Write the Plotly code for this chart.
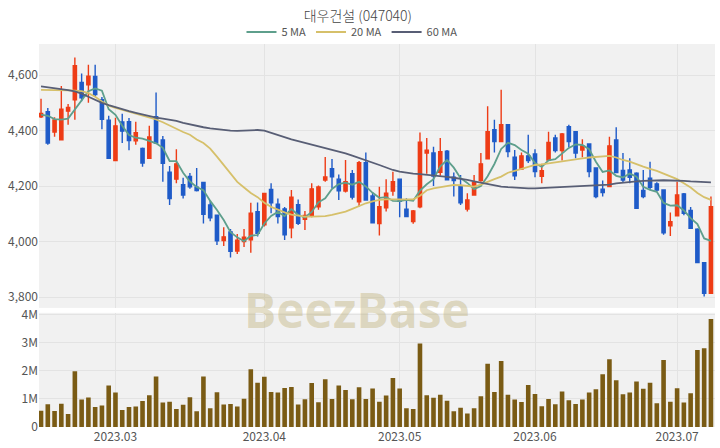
import pandas as pd
import plotly.graph_objects as go

title_text = "대우건설 (047040)"

# trading calendar (KRX holidays inside the window)
holidays = ["2023-03-01", "2023-05-01", "2023-05-05", "2023-05-29", "2023-06-06"]
dates = [d.strftime("%Y-%m-%d") for d in pd.bdate_range("2023-02-14", "2023-07-10")
         if d.strftime("%Y-%m-%d") not in holidays]

month_ticks = ["2023-03-02", "2023-04-03", "2023-05-02", "2023-06-01", "2023-07-03"]
month_labels = ["2023.03", "2023.04", "2023.05", "2023.06", "2023.07"]

opens = [4450, 4468, 4395, 4367, 4470, 4511, 4573, 4565, 4595, 4511,
         4437, 4292, 4431, 4432, 4363, 4336, 4300, 4450, 4366, 4250,
         4225, 4205, 4235, 4196, 4213, 4132, 4095, 4004, 4035, 3966,
         4000, 4006, 4108, 4060, 4188, 4135, 4118, 4050, 4133, 4080,
         4092, 4125, 4222, 4263, 4225, 4182, 4245, 4143, 4284, 4164,
         4065, 4122, 4182, 4225, 4117, 4072, 4125, 4319, 4319, 4250,
         4326, 4232, 4198, 4117, 4168, 4220, 4298, 4403, 4360, 4421,
         4304, 4261, 4309, 4316, 4235, 4294, 4373, 4328, 4414, 4396,
         4330, 4352, 4265, 4189, 4198, 4366, 4256, 4258, 4246, 4184,
         4228, 4208, 4186, 4057, 4093, 4172, 4112, 4045, 3924, 3814]
highs = [4515, 4481, 4448, 4561, 4496, 4663, 4606, 4637, 4637, 4521,
         4453, 4446, 4461, 4445, 4432, 4339, 4417, 4537, 4380, 4272,
         4333, 4230, 4247, 4265, 4213, 4146, 4095, 4052, 4045, 4027,
         4045, 4140, 4141, 4174, 4210, 4155, 4125, 4186, 4152, 4110,
         4210, 4202, 4305, 4298, 4242, 4294, 4258, 4290, 4321, 4177,
         4198, 4225, 4252, 4225, 4156, 4114, 4393, 4373, 4342, 4373,
         4330, 4249, 4240, 4174, 4240, 4319, 4488, 4439, 4547, 4421,
         4330, 4321, 4385, 4333, 4280, 4396, 4385, 4391, 4421, 4396,
         4369, 4352, 4265, 4220, 4378, 4412, 4319, 4300, 4250, 4258,
         4288, 4214, 4186, 4105, 4216, 4175, 4125, 4048, 3924, 4162]
lows = [4445, 4349, 4378, 4365, 4421, 4439, 4506, 4500, 4522, 4405,
        4298, 4290, 4355, 4329, 4349, 4270, 4298, 4352, 4216, 4132,
        4210, 4155, 4190, 4180, 4065, 4073, 3988, 3984, 3943, 3955,
        3980, 3960, 4018, 4054, 4102, 4065, 4006, 4012, 4060, 4042,
        4088, 4115, 4216, 4192, 4150, 4177, 4152, 4126, 4148, 4066,
        4022, 4108, 4165, 4088, 4088, 4064, 4120, 4244, 4200, 4237,
        4222, 4162, 4132, 4108, 4166, 4216, 4297, 4321, 4358, 4304,
        4222, 4258, 4283, 4232, 4210, 4294, 4321, 4292, 4340, 4300,
        4304, 4232, 4156, 4162, 4198, 4249, 4213, 4210, 4120, 4156,
        4186, 4180, 4025, 4020, 4090, 4095, 4045, 3922, 3802, 3814]
closes = [4462, 4355, 4438, 4477, 4483, 4634, 4518, 4596, 4530, 4441,
          4300, 4417, 4398, 4364, 4392, 4283, 4377, 4355, 4282, 4155,
          4280, 4168, 4197, 4184, 4098, 4086, 4003, 4017, 3965, 4005,
          4016, 4102, 4030, 4173, 4140, 4090, 4024, 4160, 4066, 4094,
          4190, 4197, 4233, 4233, 4183, 4216, 4160, 4284, 4150, 4068,
          4126, 4174, 4216, 4145, 4090, 4110, 4358, 4329, 4236, 4324,
          4223, 4220, 4140, 4150, 4212, 4280, 4396, 4360, 4421, 4324,
          4237, 4309, 4292, 4252, 4255, 4357, 4328, 4388, 4360, 4319,
          4345, 4252, 4162, 4177, 4345, 4249, 4222, 4232, 4120, 4162,
          4196, 4186, 4032, 4072, 4168, 4102, 4048, 3924, 3814, 4126]
# closes of the 4 sessions before the window (for the 5-day average)
pre_closes = [4375, 4499, 4487, 4464]

volumes_m = [0.58, 0.81, 0.57, 0.83, 0.46, 1.99, 0.98, 1.05, 0.71, 0.77,
             1.48, 1.23, 0.61, 0.71, 0.73, 0.93, 1.13, 1.80, 0.87, 0.90,
             0.64, 0.79, 1.06, 0.56, 1.80, 0.67, 1.24, 0.80, 0.82, 0.73,
             1.01, 2.06, 1.58, 1.79, 1.25, 1.23, 1.39, 1.43, 0.80, 0.99,
             1.57, 0.88, 1.70, 1.00, 1.48, 1.32, 0.99, 1.42, 1.00, 1.37,
             0.90, 1.12, 1.75, 1.37, 0.67, 0.64, 2.98, 1.13, 1.04, 1.15,
             0.94, 0.56, 0.69, 0.48, 0.67, 1.10, 2.26, 1.25, 2.35, 1.15,
             0.98, 0.89, 1.50, 1.18, 0.74, 1.00, 0.81, 1.27, 0.95, 0.82,
             0.98, 1.23, 1.35, 1.88, 2.42, 1.67, 1.17, 1.23, 1.62, 1.36,
             1.58, 0.85, 2.39, 0.90, 1.38, 0.87, 1.20, 2.75, 2.81, 3.85]

ma20 = [4547, 4547, 4546, 4546, 4545, 4544, 4542, 4535, 4522, 4505,
        4490, 4482, 4475, 4470, 4462, 4455, 4448, 4440, 4430, 4418,
        4405, 4395, 4385, 4368, 4355, 4335, 4306, 4275, 4245, 4215,
        4195, 4175, 4160, 4140, 4125, 4114, 4105, 4097, 4093, 4090,
        4090, 4090, 4092, 4096, 4102, 4108, 4118, 4128, 4138, 4145,
        4150, 4152, 4152, 4150, 4150, 4152, 4165, 4185, 4192, 4196,
        4202, 4204, 4203, 4200, 4198, 4205, 4216, 4225, 4234, 4248,
        4255, 4262, 4268, 4276, 4278, 4282, 4286, 4290, 4294, 4297,
        4300, 4303, 4305, 4307, 4309, 4303, 4294, 4288, 4278, 4270,
        4262, 4255, 4245, 4235, 4225, 4210, 4195, 4175, 4160, 4150]
ma60 = [4559, 4556, 4553, 4550, 4546, 4541, 4533, 4522, 4510, 4500,
        4492, 4484, 4477, 4470, 4464, 4458, 4452, 4447, 4443, 4440,
        4435, 4428, 4422, 4416, 4412, 4408, 4405, 4402, 4400, 4399,
        4400, 4401, 4402, 4400, 4392, 4383, 4375, 4368, 4362, 4356,
        4350, 4344, 4337, 4330, 4324, 4318, 4310, 4302, 4294, 4285,
        4276, 4267, 4258, 4252, 4248, 4245, 4243, 4241, 4239, 4236,
        4233, 4230, 4227, 4222, 4217, 4212, 4206, 4201, 4198, 4196,
        4194, 4193, 4192, 4192, 4193, 4194, 4195, 4196, 4197, 4198,
        4199, 4200, 4201, 4202, 4205, 4210, 4213, 4215, 4217, 4219,
        4220, 4221, 4221, 4220, 4220, 4219, 4217, 4215, 4214, 4213]

ma5 = pd.Series(pre_closes + closes).rolling(5).mean().iloc[len(pre_closes):].tolist()
volumes = [v * 1e6 for v in volumes_m]

# numeric session positions (one per trading day, no gaps)
xpos = list(range(len(dates)))
tick_pos = [dates.index(d) for d in month_ticks]

UP = "#EE3C16"
DOWN = "#1F5BC8"
VOL = "#7A5B14"
FONT = "Noto Sans CJK KR, Noto Sans, sans-serif"
GRID = "#E3E3E3"

fig = go.Figure()
fig.add_trace(go.Candlestick(
    x=xpos, open=opens, high=highs, low=lows, close=closes, text=dates,
    increasing=dict(line=dict(color=UP, width=1.4), fillcolor=UP),
    decreasing=dict(line=dict(color=DOWN, width=1.4), fillcolor=DOWN),
    showlegend=False, xaxis="x", yaxis="y", hoverinfo="skip"))
fig.add_trace(go.Scatter(x=xpos, y=ma5, name="5 MA", mode="lines",
                         line=dict(color="#5E9F8C", width=1.8), xaxis="x", yaxis="y"))
fig.add_trace(go.Scatter(x=xpos, y=ma20, name="20 MA", mode="lines",
                         line=dict(color="#D6C06A", width=1.8), xaxis="x", yaxis="y"))
fig.add_trace(go.Scatter(x=xpos, y=ma60, name="60 MA", mode="lines",
                         line=dict(color="#585E75", width=1.8), xaxis="x", yaxis="y"))
fig.add_trace(go.Bar(x=xpos, y=volumes, marker=dict(color=VOL, line=dict(width=0)),
                     showlegend=False, xaxis="x2", yaxis="y2"))

xcommon = dict(range=[-0.3, 99.6], showgrid=True, gridcolor=GRID, gridwidth=1,
               tickmode="array", tickvals=tick_pos, ticktext=month_labels,
               zeroline=False, showline=False, ticks="", automargin=False,
               rangeslider=dict(visible=False))
ycommon = dict(showgrid=True, gridcolor=GRID, zeroline=False, ticks="", automargin=False,
               tickfont=dict(size=12, color="#555555"))

fig.update_layout(
    template="none",
    width=720, height=448,
    margin=dict(l=39, r=5, t=44, b=21, autoexpand=False),
    paper_bgcolor="white", plot_bgcolor="#F1F1F1",
    font=dict(family=FONT, size=12, color="#555555"),
    title=dict(text=title_text, x=0.497, xanchor="center", xref="container",
               y=1 - 16 / 448, yanchor="middle", yref="container",
               font=dict(family=FONT, size=14, color="#444444", weight=300)),
    legend=dict(orientation="h", x=0.463, xanchor="center", xref="paper",
                y=1 - 32 / 448, yanchor="middle", yref="container",
                font=dict(size=11, color="#555555"), bgcolor="rgba(0,0,0,0)",
                itemwidth=30, tracegroupgap=0),
    showlegend=True,
    boxgap=0.32,
    bargap=0.32,
    xaxis=dict(xcommon, anchor="y", showticklabels=False),
    xaxis2=dict(xcommon, anchor="y2", matches="x", showticklabels=True,
                ticklabelstandoff=1, tickfont=dict(size=12, color="#555555")),
    yaxis=dict(ycommon, domain=[0.311, 1.0], range=[3761, 4712], tickformat=",",
               tickvals=[3800, 4000, 4200, 4400, 4600]),
    yaxis2=dict(ycommon, domain=[0.0, 0.298], range=[0, 4.07e6],
                tickvals=[0, 1e6, 2e6, 3e6, 4e6], ticktext=["0", "1M", "2M", "3M", "4M"]),
    annotations=[dict(text="<b>BeezBase</b>", xref="paper", yref="paper", x=0.470, y=0.308,
                      xanchor="center", yanchor="middle", showarrow=False,
                      font=dict(family="Open Sans, sans-serif", size=48,
                                color="rgba(190,176,120,0.42)"))],
)

fig.write_html("out.html", config={"displayModeBar": False},
               post_script="document.body.style.margin='0';")
